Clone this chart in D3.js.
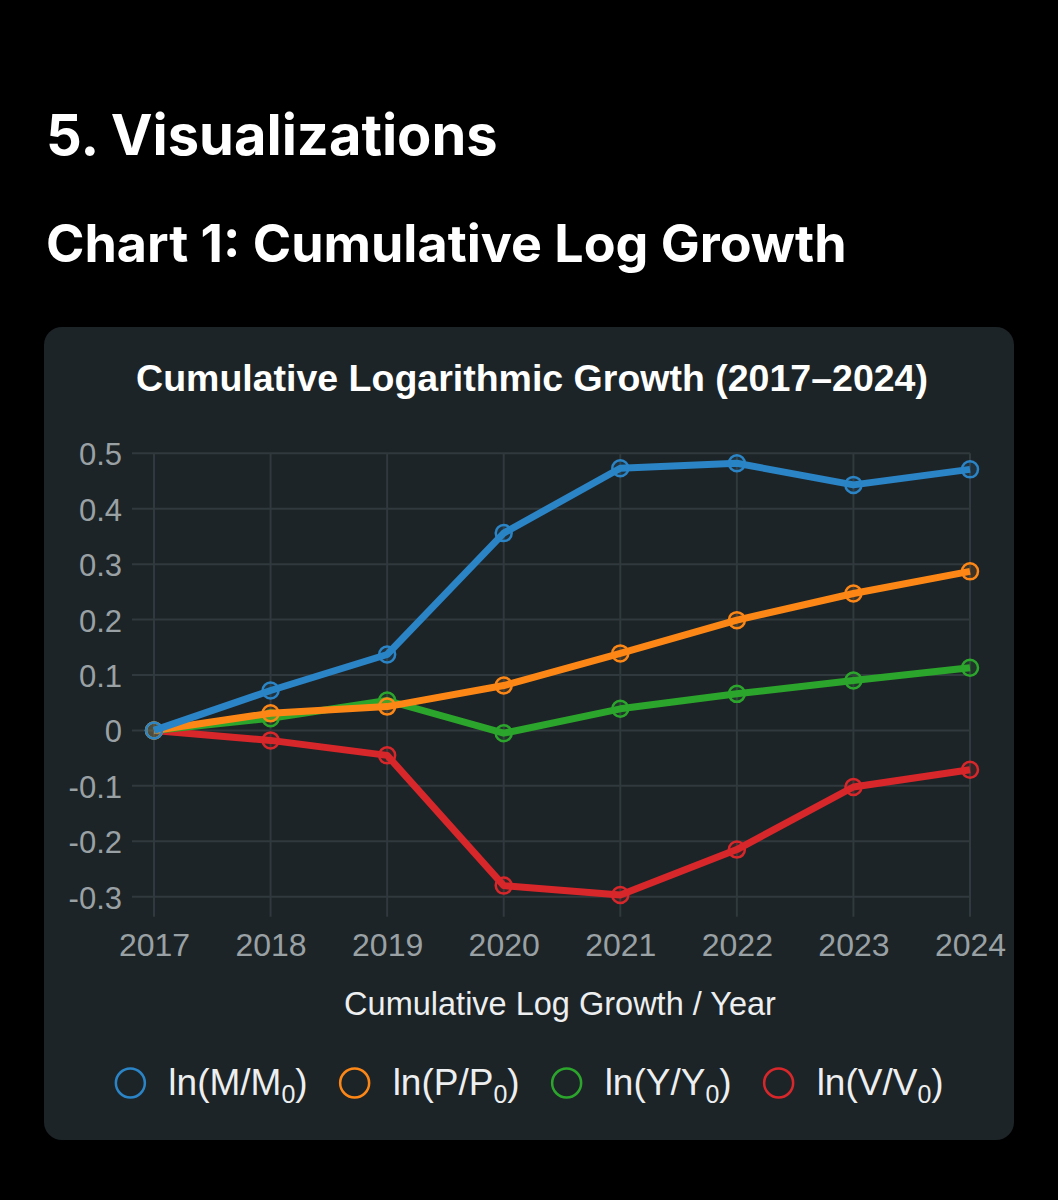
<!DOCTYPE html>
<html>
<head>
<meta charset="utf-8">
<script src="https://cdn.jsdelivr.net/npm/d3@7"></script>
<style>
    html, body { margin: 0; padding: 0; background: #000; }
    svg { display: block; }
</style>
</head>
<body>
<svg></svg>
<script>
// values
const years = [2017, 2018, 2019, 2020, 2021, 2022, 2023, 2024];
const lnM = [0, 0.072, 0.137, 0.356, 0.473, 0.482, 0.443, 0.471];
const lnP = [0, 0.031, 0.043, 0.081, 0.139, 0.199, 0.247, 0.287];
const lnY = [0, 0.022, 0.054, -0.005, 0.039, 0.066, 0.090, 0.113];
const lnV = [0, -0.018, -0.045, -0.280, -0.297, -0.215, -0.102, -0.071];
const yTicks = [-0.3, -0.2, -0.1, 0, 0.1, 0.2, 0.3, 0.4, 0.5];
const seriesNames = ['M', 'P', 'Y', 'V'];

const colors = ['#2a84c6', '#fd8716', '#2ca52c', '#d8272b'];
const series = [lnM, lnP, lnY, lnV].map((values, i) => ({
    name: seriesNames[i],
    color: colors[i],
    points: values.map((v, j) => ({ year: years[j], value: v }))
}));

const width = 1058;
const height = 1200;
const chartFont = '"Liberation Sans", Arial, Helvetica, sans-serif';

const svg = d3.select('svg')
    .attr('width', width)
    .attr('height', height);

svg.append('rect')
    .attr('width', width)
    .attr('height', height)
    .style('fill', '#000');

svg.append('text')
    .attr('x', 46)
    .attr('y', 155)
    .text('5. Visualizations')
    .style('font-family', 'Inter, sans-serif')
    .style('font-weight', 700)
    .style('font-size', '56px')
    .style('fill', '#fff');

svg.append('text')
    .attr('x', 46)
    .attr('y', 262)
    .text('Chart 1: Cumulative Log Growth')
    .style('font-family', 'Inter, sans-serif')
    .style('font-weight', 700)
    .style('font-size', '52px')
    .style('fill', '#fff');

// card
svg.append('rect')
    .attr('x', 44)
    .attr('y', 327)
    .attr('width', 970)
    .attr('height', 813)
    .attr('rx', 18)
    .style('fill', '#1d2427');

svg.append('text')
    .attr('x', 532)
    .attr('y', 391)
    .attr('text-anchor', 'middle')
    .text('Cumulative Logarithmic Growth (2017\u20132024)')
    .style('font-family', chartFont)
    .style('font-weight', 700)
    .style('font-size', '37.5px')
    .style('fill', '#fff');

const x = d3.scalePoint()
    .domain(years)
    .range([154, 970]);

const y = d3.scaleLinear()
    .domain([-0.3, 0.5])
    .range([896.7, 453.3]);

const gridColor = '#30393d';
const plotLeft = x.range()[0];
const plotRight = x.range()[1];

const grid = svg.append('g').attr('class', 'grid');

grid.selectAll('.hgrid')
    .data(yTicks)
    .enter()
    .append('line')
    .attr('class', 'hgrid')
    .attr('x1', plotLeft - 22)
    .attr('x2', plotRight)
    .attr('y1', d => y(d))
    .attr('y2', d => y(d))
    .style('stroke', gridColor)
    .style('stroke-width', 2);

grid.selectAll('.vgrid')
    .data(years)
    .enter()
    .append('line')
    .attr('class', 'vgrid')
    .attr('x1', d => x(d))
    .attr('x2', d => x(d))
    .attr('y1', y(0.5))
    .attr('y2', y(-0.3) + 20)
    .style('stroke', gridColor)
    .style('stroke-width', 2);

const yAxis = svg.append('g')
    .attr('transform', `translate(${plotLeft},0)`)
    .call(d3.axisLeft(y)
        .tickValues(yTicks)
        .tickFormat(d => String(+d.toFixed(1)))
        .tickSize(0)
        .tickPadding(32));

const xAxis = svg.append('g')
    .attr('transform', `translate(0,${y(-0.3)})`)
    .call(d3.axisBottom(x)
        .tickSize(0)
        .tickPadding(37));

[yAxis, xAxis].forEach(axis => {
    axis.select('.domain').remove();
    axis.selectAll('text')
        .style('font-family', chartFont)
        .style('fill', '#9aa1a5');
});
yAxis.selectAll('text')
    .attr('dy', '0.37em')
    .style('font-size', '31px');
xAxis.selectAll('text')
    .style('font-size', '32px');

svg.append('text')
    .attr('x', 560)
    .attr('y', 1015)
    .attr('text-anchor', 'middle')
    .text('Cumulative Log Growth / Year')
    .style('font-family', chartFont)
    .style('font-size', '32.5px')
    .style('fill', '#eceeef');

const line = d3.line()
    .x(d => x(d.year))
    .y(d => y(d.value));

// first series ends up on top, as in the reference
const lines = svg.append('g').attr('class', 'series');
series.slice().reverse().forEach(s => {
    const g = lines.append('g');
    g.append('path')
        .datum(s.points)
        .attr('d', line)
        .style('fill', 'none')
        .style('stroke', s.color)
        .style('stroke-width', 7)
        .style('stroke-linejoin', 'round');
    g.selectAll('circle')
        .data(s.points)
        .enter()
        .append('circle')
        .attr('cx', d => x(d.year))
        .attr('cy', d => y(d.value))
        .attr('r', 8)
        .style('fill', s.color)
        .style('fill-opacity', 0.15)
        .style('stroke', s.color)
        .style('stroke-width', 2.5);
});

// legend
const legend = svg.append('g').attr('class', 'legend');
const items = legend.selectAll('.item')
    .data(series)
    .enter()
    .append('g')
    .attr('class', 'item');

items.append('circle')
    .attr('r', 14.5)
    .attr('cx', 0)
    .attr('cy', 0)
    .style('fill', 'none')
    .style('stroke', d => d.color)
    .style('stroke-width', 2.5);

const labels = items.append('text')
    .attr('x', 38)
    .attr('y', 12)
    .style('font-family', chartFont)
    .style('font-size', '37px')
    .style('fill', '#eceeef');

labels.append('tspan').text(d => `ln(${d.name}/${d.name}`);
labels.append('tspan')
    .attr('dy', 8)
    .style('font-size', '25px')
    .text('0');
labels.append('tspan')
    .attr('dy', -8)
    .text(')');

const gap = 47;
const widths = [];
labels.each(function () { widths.push(this.getComputedTextLength()); });
const total = d3.sum(widths, w => 38 + w) + gap * (widths.length - 1) + 14;
let cursor = 530 - total / 2 + 14;
items.attr('transform', (d, i) => {
    const t = `translate(${cursor},1083)`;
    cursor += 38 + widths[i] + gap;
    return t;
});
</script>
</body>
</html>
